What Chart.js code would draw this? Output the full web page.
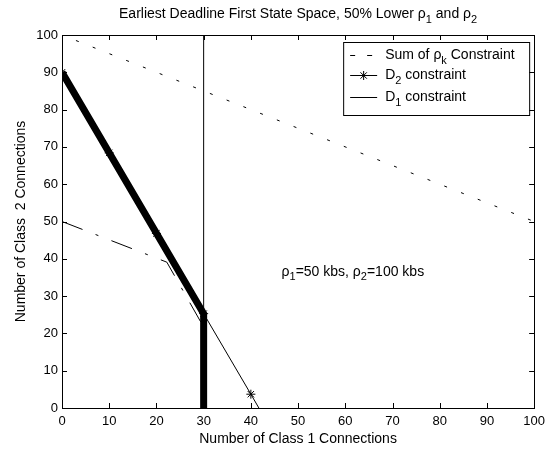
<!DOCTYPE html>
<html>
<head>
<meta charset="utf-8">
<script src="https://cdn.jsdelivr.net/npm/chart.js@4.4.0/dist/chart.umd.min.js"></script>
<style>
html, body { margin: 0; padding: 0; background: #fff; }
#wrap { width: 551px; height: 450px; }
</style>
</head>
<body>
<div id="wrap"><canvas id="edfChart" width="551" height="450"></canvas></div>
<script>
// axis ticks
const xTicks = [0, 10, 20, 30, 40, 50, 60, 70, 80, 90, 100];
const yTicks = [0, 10, 20, 30, 40, 50, 60, 70, 80, 90, 100];

// sum of rho_k constraint (upper dashed line)
const sumX = [0, 100];
const sumY = [100, 50];

// lower dash-dot boundary
const lowX = [0, 22.2, 30];
const lowY = [50, 39.1, 21.7];

// D2 constraint (thin line with * markers)
const d2X = [0, 10, 20, 30, 40, 41.7];
const d2Y = [90, 68.4, 46.8, 25.3, 3.7, 0];

// feasible region edge (heavy line)
const edgeX = [0, 30, 30];
const edgeY = [90, 25.3, 0];

// D1 constraint (vertical line)
const d1X = [30, 30];
const d1Y = [0, 100];

const FONT = "Arial, 'Liberation Sans', Helvetica, sans-serif";
const TEXT_SIZE = 14;
const TICK_SIZE = 13;

function toPoints(xs, ys) {
    return xs.map((x, i) => ({ x: x, y: ys[i] }));
}

// draw text made of [string, isSub] parts
function drawParts(ctx, parts, x, y, size, align) {
    const subSize = Math.round(size * 0.75);
    let total = 0;
    parts.forEach(([t, sub]) => {
        ctx.font = (sub ? subSize : size) + "px " + FONT;
        total += ctx.measureText(t).width;
    });
    let cx = align === "center" ? x - total / 2 : x;
    ctx.textAlign = "left";
    ctx.textBaseline = "middle";
    parts.forEach(([t, sub]) => {
        ctx.font = (sub ? subSize : size) + "px " + FONT;
        ctx.fillText(t, cx, sub ? y + size * 0.4 : y);
        cx += ctx.measureText(t).width;
    });
}

const framePlugin = {
    id: "framePlugin",
    afterDatasetsDraw(chart) {
        const ctx = chart.ctx;
        const area = chart.chartArea;
        const xs = chart.scales.x;
        const ys = chart.scales.y;
        ctx.save();
        ctx.strokeStyle = "#000";
        ctx.fillStyle = "#000";
        ctx.lineWidth = 1;

        // box
        ctx.strokeRect(Math.round(area.left) + 0.5, Math.round(area.top) + 0.5,
            Math.round(area.right - area.left), Math.round(area.bottom - area.top));

        // inward ticks on all sides
        const tl = 5;
        ctx.beginPath();
        xTicks.forEach((v) => {
            const px = Math.round(xs.getPixelForValue(v)) + 0.5;
            ctx.moveTo(px, area.bottom);
            ctx.lineTo(px, area.bottom - tl);
            ctx.moveTo(px, area.top);
            ctx.lineTo(px, area.top + tl);
        });
        yTicks.forEach((v) => {
            const py = Math.round(ys.getPixelForValue(v)) + 0.5;
            ctx.moveTo(area.left, py);
            ctx.lineTo(area.left + tl, py);
            ctx.moveTo(area.right, py);
            ctx.lineTo(area.right - tl, py);
        });
        ctx.stroke();

        // rate annotation
        drawParts(ctx, [["\u03c1", false], ["1", true], ["=50 kbs, \u03c1", false], ["2", true], ["=100 kbs", false]],
            xs.getPixelForValue(46.5), ys.getPixelForValue(36.5), TEXT_SIZE, "left");

        // legend
        const lx = area.right - 191;
        const ly = area.top + 7;
        ctx.fillStyle = "#fff";
        ctx.fillRect(lx, ly, 186, 73);
        ctx.fillStyle = "#000";
        ctx.strokeRect(lx + 0.5, ly + 0.5, 186, 73);

        const sx = lx + 7;
        const tx = lx + 42;
        const rows = [ly + 13, ly + 33, ly + 55];

        ctx.beginPath();
        ctx.moveTo(sx, rows[0] + 0.5); ctx.lineTo(sx + 5, rows[0] + 0.5);
        ctx.moveTo(sx + 17, rows[0] + 0.5); ctx.lineTo(sx + 22, rows[0] + 0.5);
        ctx.moveTo(sx, rows[1] + 0.5); ctx.lineTo(sx + 27, rows[1] + 0.5);
        ctx.moveTo(sx, rows[2] + 0.5); ctx.lineTo(sx + 27, rows[2] + 0.5);
        ctx.stroke();
        Chart.helpers.drawPoint(ctx, { pointStyle: "star", radius: 4.5, borderWidth: 1 }, sx + 13.5, rows[1] + 0.5);

        drawParts(ctx, [["Sum of \u03c1", false], ["k", true], [" Constraint", false]], tx, rows[0], TEXT_SIZE, "left");
        drawParts(ctx, [["D", false], ["2", true], [" constraint", false]], tx, rows[1], TEXT_SIZE, "left");
        drawParts(ctx, [["D", false], ["1", true], [" constraint", false]], tx, rows[2], TEXT_SIZE, "left");
        ctx.restore();
    },
    afterDraw(chart) {
        const ctx = chart.ctx;
        const area = chart.chartArea;
        ctx.save();
        ctx.fillStyle = "#000";
        drawParts(ctx, [["Earliest Deadline First State Space, 50% Lower \u03c1", false], ["1", true],
            [" and \u03c1", false], ["2", true]], (area.left + area.right) / 2, 14, TEXT_SIZE, "center");
        ctx.restore();
    }
};

new Chart(document.getElementById("edfChart"), {
    type: "line",
    data: {
        datasets: [
            {
                label: "D2 constraint",
                data: toPoints(d2X, d2Y),
                borderColor: "#000",
                backgroundColor: "#000",
                borderWidth: 1,
                pointStyle: "star",
                pointRadius: [4.5, 4.5, 4.5, 4.5, 4.5, 0],
                pointBorderColor: "#000",
                pointBorderWidth: 1,
            },
            {
                label: "edge",
                data: toPoints(edgeX, edgeY),
                borderColor: "#000",
                borderWidth: 7,
                pointRadius: 0,
            },
            {
                label: "D1 constraint",
                data: toPoints(d1X, d1Y),
                borderColor: "#000",
                borderWidth: 1,
                pointRadius: 0,
            },
            {
                label: "Sum of rho_k Constraint",
                data: toPoints(sumX, sumY),
                borderColor: "#000",
                borderWidth: 1,
                borderDash: [3, 15],
                borderDashOffset: -15,
                pointRadius: 0,
            },
            {
                label: "lower",
                data: toPoints(lowX, lowY),
                borderColor: "#000",
                borderWidth: 1,
                borderDash: [22, 14, 3, 14],
                pointRadius: 0,
            },
        ],
    },
    options: {
        responsive: false,
        animation: false,
        devicePixelRatio: 1,
        layout: { padding: { left: 10, right: 14, top: 35, bottom: 0 } },
        elements: { line: { tension: 0, fill: false } },
        plugins: {
            legend: { display: false },
            tooltip: { enabled: false },
        },
        scales: {
            x: {
                type: "linear",
                min: 0,
                max: 100,
                grid: { display: false, drawTicks: false },
                border: { display: false },
                afterBuildTicks(scale) {
                    scale.ticks = xTicks.map((v) => ({ value: v }));
                },
                afterFit(scale) {
                    scale.height = 42;
                },
                ticks: {
                    color: "#000",
                    font: { family: FONT, size: TICK_SIZE },
                    padding: 6,
                    maxRotation: 0,
                    autoSkip: false,
                },
                title: {
                    display: true,
                    text: "Number of Class 1 Connections",
                    color: "#000",
                    font: { family: FONT, size: TEXT_SIZE },
                    padding: { top: 0, bottom: 2 },
                },
            },
            y: {
                type: "linear",
                min: 0,
                max: 100,
                grid: { display: false, drawTicks: false },
                border: { display: false },
                afterBuildTicks(scale) {
                    scale.ticks = yTicks.map((v) => ({ value: v }));
                },
                afterFit(scale) {
                    scale.width = 52;
                },
                ticks: {
                    color: "#000",
                    font: { family: FONT, size: TICK_SIZE },
                    padding: 4,
                    autoSkip: false,
                },
                title: {
                    display: true,
                    text: "Number of Class  2 Connections",
                    color: "#000",
                    font: { family: FONT, size: TEXT_SIZE },
                    padding: { top: 3, bottom: 0 },
                },
            },
        },
    },
    plugins: [framePlugin],
});
</script>
</body>
</html>
